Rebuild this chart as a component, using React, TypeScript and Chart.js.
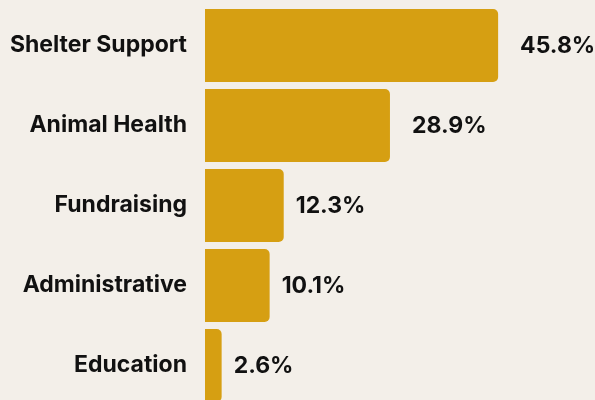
import React, { useEffect, useRef } from "react";
import { Chart, registerables } from "chart.js";

Chart.register(...registerables);

const categories = ["Shelter Support", "Animal Health", "Fundraising", "Administrative", "Education"];
const shares = [45.8, 28.9, 12.3, 10.1, 2.6];
const valueLabels = ["45.8%", "28.9%", "12.3%", "10.1%", "2.6%"];

const FONT = "Inter";
const BG = "#F3EFE9";
const BAR = "#D69F12";
const TEXT = "#111111";

const valueLabelPlugin = {
  id: "valueLabels",
  afterDatasetsDraw(chart: any) {
    const ctx = chart.ctx;
    const meta = chart.getDatasetMeta(0);
    ctx.save();
    ctx.font = `700 23px ${FONT}`;
    ctx.fillStyle = TEXT;
    ctx.textAlign = "left";
    ctx.textBaseline = "middle";
    meta.data.forEach((bar: any, i: number) => {
      const offset = shares[i] > 20 ? 22 : 12;
      ctx.fillText(valueLabels[i], bar.x + offset, bar.y + 1);
    });
    ctx.restore();
  },
};

export default function App() {
  const ref = useRef<HTMLCanvasElement | null>(null);
  useEffect(() => {
    if (!ref.current) return;
    const chart = new Chart(ref.current, {
      type: "bar",
      data: {
        labels: categories,
        datasets: [
          {
            data: shares,
            backgroundColor: BAR,
            borderRadius: 5,
            borderSkipped: "start",
            barPercentage: 0.91,
            categoryPercentage: 1,
          },
        ],
      },
      options: {
        indexAxis: "y",
        animation: false,
        responsive: false,
        layout: { padding: { top: 5.5, bottom: 6.5, left: 0, right: 6 } },
        plugins: { legend: { display: false }, tooltip: { enabled: false } },
        scales: {
          x: { display: false, min: 0, max: 60 },
          y: {
            grid: { display: false, drawTicks: false },
            border: { display: false },
            ticks: {
              color: TEXT,
              padding: 18,
              autoSkip: false,
              font: { family: FONT, size: 23, weight: "bold" },
            },
            afterFit(scale: any) {
              scale.width = 205;
              scale.paddingTop = 0;
              scale.paddingBottom = 0;
            },
          },
        },
      },
      plugins: [valueLabelPlugin],
    });
    return () => chart.destroy();
  }, []);

  return (
    <div
      style={{
        position: "fixed",
        top: 0,
        left: 0,
        width: 595,
        height: 400,
        overflow: "hidden",
        background: BG,
      }}
    >
      <canvas ref={ref} width={595} height={412} style={{ display: "block", width: 595, height: 412 }} />
    </div>
  );
}
